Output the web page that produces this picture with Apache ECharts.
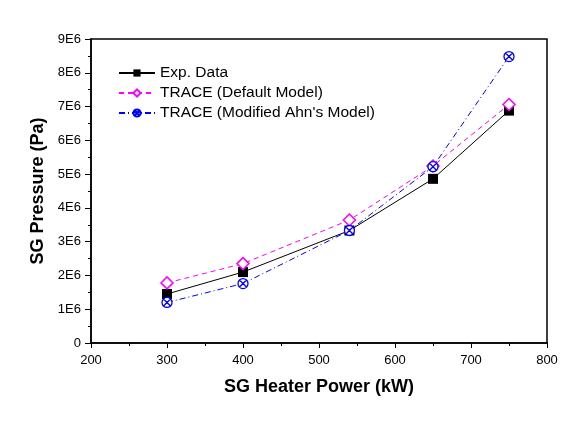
<!DOCTYPE html>
<html><head><meta charset="utf-8">
<script src="https://cdn.jsdelivr.net/npm/echarts@6/dist/echarts.min.js"></script>
<style>html,body{margin:0;padding:0;background:#fff}#c{width:574px;height:427px}</style>
</head><body><div id="c"></div>
<script>
const power = [300, 400, 540, 650, 750];
const expData = [1.45e6, 2.10e6, 3.33e6, 4.86e6, 6.88e6];
const defaultModel = [1.78e6, 2.35e6, 3.64e6, 5.24e6, 7.06e6];
const modifiedAhn = [1.20e6, 1.76e6, 3.33e6, 5.22e6, 8.48e6];
const seriesNames = ['Exp. Data', 'TRACE (Default Model)', "TRACE (Modified Ahn's Model)"];
const xTitle = 'SG Heater Power (kW)';
const yTitle = 'SG Pressure (Pa)';

const pair = arr => power.map((p, i) => [p, arr[i]]);
const crossCircle = 'path://M0,10 A10,10 0 1,1 20,10 A10,10 0 1,1 0,10 Z M3,3 L17,17 M17,3 L3,17';
const font = 'Liberation Sans, Arial, sans-serif';

const chart = echarts.init(document.getElementById('c'));
chart.setOption({
  animation: false,
  backgroundColor: '#fff',
  grid: { left: 91, right: 27, top: 39, bottom: 84, show: true, borderColor: '#000', borderWidth: 1.5 },
  legend: {
    orient: 'vertical', left: 113, top: 60, itemWidth: 36, itemHeight: 9, itemGap: 4,
    textStyle: { fontFamily: font, fontSize: 15.5, color: '#000' },
    data: seriesNames
  },
  xAxis: {
    type: 'value', min: 200, max: 800, interval: 100,
    axisLine: { lineStyle: { color: '#000', width: 1.5 } },
    axisTick: { inside: false, length: 5, lineStyle: { color: '#000' } },
    minorTick: { show: true, splitNumber: 2, length: 3, lineStyle: { color: '#000' } },
    splitLine: { show: false },
    axisLabel: { fontFamily: font, fontSize: 13, color: '#000', margin: 11 },
    name: xTitle, nameLocation: 'middle', nameGap: 35,
    nameTextStyle: { fontFamily: font, fontSize: 18, fontWeight: 'bold', color: '#000' }
  },
  yAxis: {
    type: 'value', min: 0, max: 9e6, interval: 1e6,
    axisLine: { show: true, lineStyle: { color: '#000', width: 1.5 } },
    axisTick: { show: true, inside: false, length: 6, lineStyle: { color: '#000' } },
    minorTick: { show: true, splitNumber: 2, length: 3, lineStyle: { color: '#000' } },
    splitLine: { show: false },
    axisLabel: { fontFamily: font, fontSize: 13, color: '#000', margin: 10,
      formatter: v => v === 0 ? '0' : (v / 1e6) + 'E6' },
    name: yTitle, nameLocation: 'middle', nameGap: 40,
    nameTextStyle: { fontFamily: font, fontSize: 18, fontWeight: 'bold', color: '#000' }
  },
  series: [
    { name: seriesNames[0], type: 'line', data: pair(expData), symbol: 'rect', symbolSize: 10,
      itemStyle: { color: '#000' }, lineStyle: { color: '#000', width: 1 } },
    { name: seriesNames[1], type: 'line', data: pair(defaultModel), symbol: 'diamond', symbolSize: 12,
      itemStyle: { color: '#fff', borderColor: '#ff00ff', borderWidth: 1.5 },
      lineStyle: { color: '#ff00ff', width: 1, type: [5, 4] } },
    { name: seriesNames[2], type: 'line', data: pair(modifiedAhn), symbol: crossCircle, symbolSize: 10,
      itemStyle: { color: '#fff', borderColor: '#0000ff', borderWidth: 1.3 },
      lineStyle: { color: '#0000ff', width: 1, type: [6, 3, 1, 3] } }
  ]
});
</script></body></html>
